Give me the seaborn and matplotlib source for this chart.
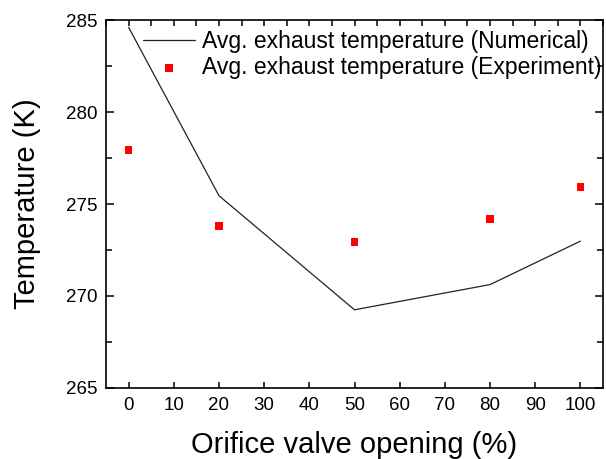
import matplotlib
matplotlib.use("Agg")
import matplotlib.pyplot as plt
from matplotlib.ticker import MultipleLocator
import seaborn as sns
import pandas as pd

opening = [0, 20, 50, 80, 100]
temp_numerical = [284.6, 275.45, 269.25, 270.62, 272.98]
temp_experiment = [277.93, 273.82, 272.93, 274.18, 275.92]

label_num = "Avg. exhaust temperature (Numerical)"
label_exp = "Avg. exhaust temperature (Experiment)"

sns.set_style("ticks")
plt.rcParams['font.family'] = ['Liberation Sans', 'DejaVu Sans']
plt.rcParams['text.color'] = 'black'
plt.rcParams['axes.labelcolor'] = 'black'
plt.rcParams['xtick.color'] = 'black'
plt.rcParams['ytick.color'] = 'black'

df = pd.DataFrame({"opening": opening, "num": temp_numerical, "exp": temp_experiment})

fig = plt.figure(figsize=(6.06, 4.59), dpi=100)
ax = fig.add_axes([0.175, 0.1547, 0.82, 0.8017])

sns.lineplot(data=df, x="opening", y="num", ax=ax, color="#222222", linewidth=0.9,
             label=label_num)
sns.scatterplot(data=df, x="opening", y="exp", ax=ax, color="#ff0000", marker="s",
                s=30, edgecolor="none", label=label_exp)

ax.set_xlim(-5, 105)
ax.set_ylim(265, 285)
ax.xaxis.set_major_locator(MultipleLocator(10))
ax.xaxis.set_minor_locator(MultipleLocator(5))
ax.yaxis.set_major_locator(MultipleLocator(5))
ax.yaxis.set_minor_locator(MultipleLocator(2.5))

ax.tick_params(which='both', direction='in', top=True, right=True, labelsize=13.5,
               width=1.1, color='black', labelcolor='black', pad=6.5)
ax.tick_params(which='major', length=6)
ax.tick_params(which='minor', length=4)
ax.tick_params(which='minor', bottom=False)
ax.tick_params(which='both', axis='x', top=True, length=4)

for sp in ax.spines.values():
    sp.set_linewidth(1.2)
    sp.set_color('black')

ax.set_xlabel("Orifice valve opening (%)", fontsize=21, labelpad=12, color='black')
ax.set_ylabel("Temperature (K)", fontsize=21, labelpad=18, color='black')

leg = ax.legend(loc='upper left', bbox_to_anchor=(0.068, 0.981), frameon=False,
                fontsize=16.5, handlelength=2.25, handletextpad=0.3,
                borderaxespad=0.0, borderpad=0.15, labelspacing=0.1)
for t in leg.get_texts():
    t.set_color('black')

fig.savefig("out.png", dpi=100)
